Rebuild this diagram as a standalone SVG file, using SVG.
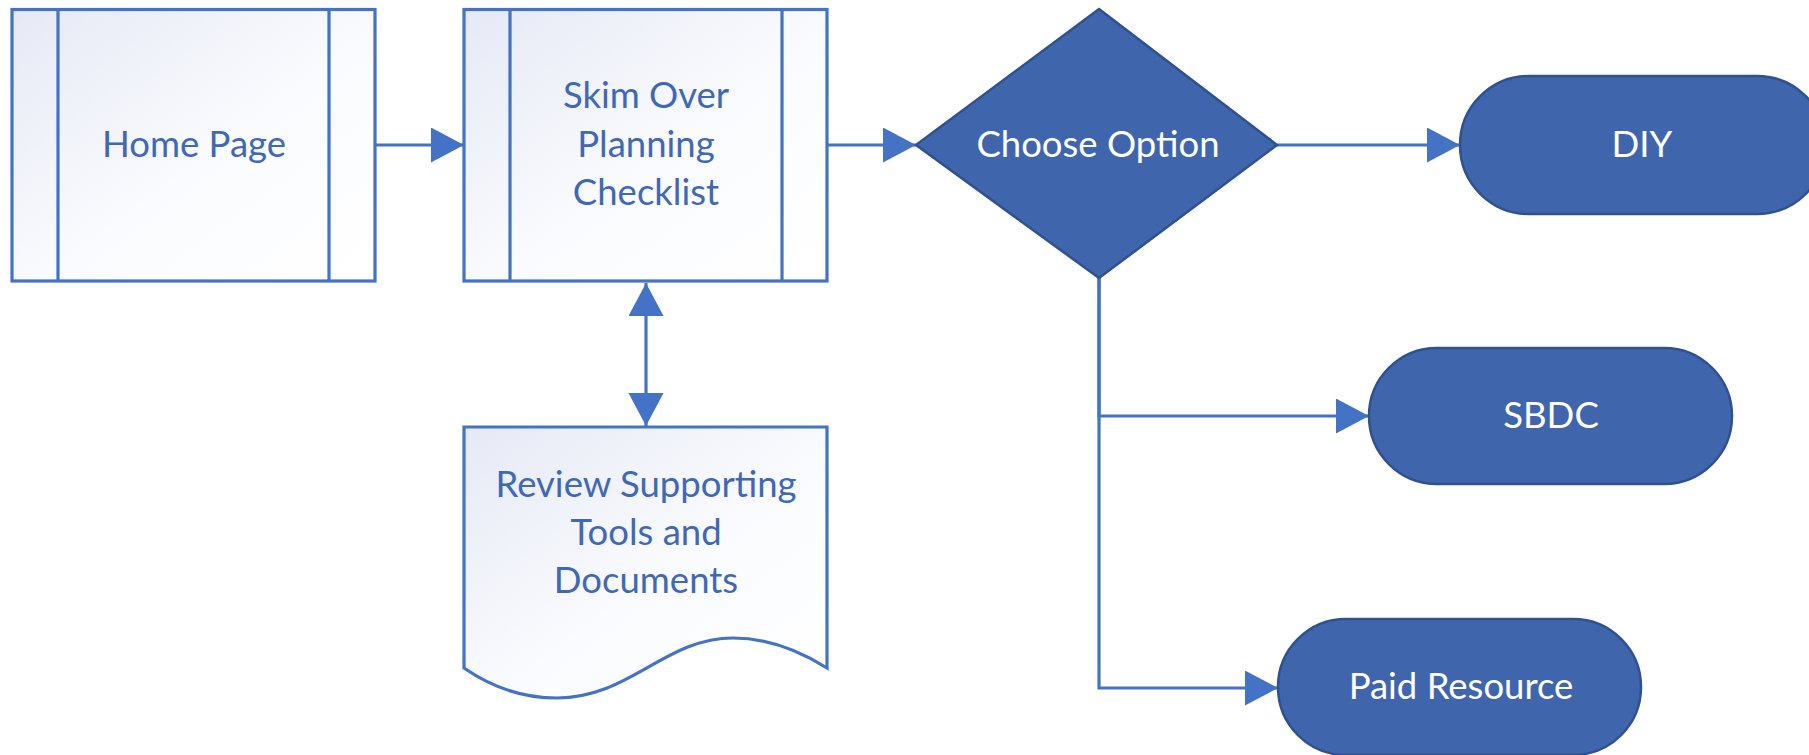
<svg xmlns="http://www.w3.org/2000/svg" width="1809" height="755" viewBox="0 0 1809 755">
  <defs>
    <linearGradient id="paleFill" x1="0" y1="0" x2="1" y2="1">
      <stop offset="0" stop-color="#E6E9F5"/>
      <stop offset="0.55" stop-color="#FAFBFE"/>
      <stop offset="1" stop-color="#FFFFFF"/>
    </linearGradient>
    <marker id="arrow" markerUnits="userSpaceOnUse" markerWidth="34" markerHeight="36" refX="33" refY="17.5" orient="auto-start-reverse">
      <path d="M0,0 L33,17.5 L0,35 Z" fill="#4472C4"/>
    </marker>
    <style>
      .light { fill: url(#paleFill); stroke: #4472C4; stroke-width: 3.2; }
      .divider { stroke: #4472C4; stroke-width: 3.2; fill: none; }
      .dark { fill: #3F65AD; stroke: #2F528F; stroke-width: 2.5; }
      .lbl { font-family: Lato, "Liberation Sans", sans-serif; font-size: 36.5px; text-anchor: middle; }
      .blue { fill: #3F68B5; }
      .white { fill: #FFFFFF; }
      .wire { fill: none; stroke: #4472C4; stroke-width: 3.2; }
    </style>
  </defs>

  <!-- connectors -->
  <g id="connectors">
    <path class="wire" d="M375,145 H464" marker-end="url(#arrow)"/>
    <path class="wire" d="M827,145 H916" marker-end="url(#arrow)"/>
    <path class="wire" d="M1277,145 H1460" marker-end="url(#arrow)"/>
    <path class="wire" d="M1099,278 V416 H1369" marker-end="url(#arrow)"/>
    <path class="wire" d="M1099,278 V688 H1278" marker-end="url(#arrow)"/>
    <path class="wire" d="M646,283 V426" marker-start="url(#arrow)" marker-end="url(#arrow)"/>
  </g>

  <!-- predefined process: Home Page -->
  <g id="home-page">
    <rect class="light" x="12" y="9.5" width="363" height="271.5"/>
    <path class="divider" d="M58,9.5 V281 M329,9.5 V281"/>
    <text class="lbl blue" x="194" y="157">Home Page</text>
  </g>

  <!-- predefined process: Skim Over Planning Checklist -->
  <g id="skim-checklist">
    <rect class="light" x="464" y="9.5" width="363" height="271.5"/>
    <path class="divider" d="M510,9.5 V281 M782,9.5 V281"/>
    <text class="lbl blue" x="646" y="108">Skim Over</text>
    <text class="lbl blue" x="646" y="157">Planning</text>
    <text class="lbl blue" x="646" y="205">Checklist</text>
  </g>

  <!-- document: Review Supporting Tools and Documents -->
  <g id="review-documents">
    <path class="light" d="M464,427 H827 V668 C800,651 770,638 733,638 C665,638 630,698 557,698 C520,698 490,686 464,668 Z"/>
    <text class="lbl blue" x="646" y="497">Review Supporting</text>
    <text class="lbl blue" x="646" y="545">Tools and</text>
    <text class="lbl blue" x="646" y="593">Documents</text>
  </g>

  <!-- decision: Choose Option -->
  <g id="choose-option">
    <polygon class="dark" points="1099,9 1277,145 1099,278 916,145"/>
    <text class="lbl white" x="1098" y="157">Choose Option</text>
  </g>

  <!-- terminators -->
  <g id="diy">
    <rect class="dark" x="1460" y="76" width="366" height="138" rx="69" ry="69"/>
    <text class="lbl white" x="1642" y="157">DIY</text>
  </g>
  <g id="sbdc">
    <rect class="dark" x="1369" y="348" width="363" height="136" rx="68" ry="68"/>
    <text class="lbl white" x="1551" y="428">SBDC</text>
  </g>
  <g id="paid-resource">
    <rect class="dark" x="1278" y="619" width="363" height="136" rx="68" ry="68"/>
    <text class="lbl white" x="1461" y="699">Paid Resource</text>
  </g>
</svg>
